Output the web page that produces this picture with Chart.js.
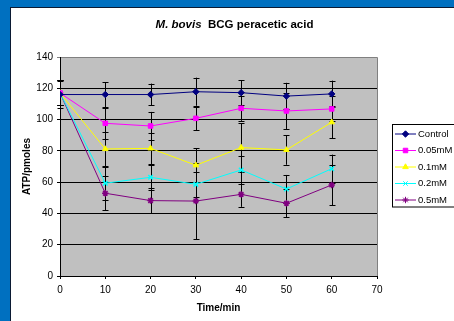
<!DOCTYPE html>
<html><head><meta charset="utf-8">
<script src="https://cdn.jsdelivr.net/npm/chart.js@4"></script>
<style>
html,body{margin:0;padding:0;background:#0070C0;width:454px;height:321px;overflow:hidden;}
#panel{position:absolute;left:10px;top:7px;width:444px;height:314px;background:#fff;border-left:1px solid #0b1a33;border-top:1px solid #0b1a33;}
#title{position:absolute;left:0;top:10px;width:447px;text-align:center;font:bold 11.5px "Liberation Sans",Arial,sans-serif;line-height:13px;color:#000;white-space:pre;}
canvas{position:absolute;left:0;top:0;}
</style></head>
<body>
<div id="panel">
<canvas id="c" width="443" height="313"></canvas>
<div id="title"><i>M. bovis</i>  BCG peracetic acid</div>
</div>
<script>
const times = [0, 10, 20, 30, 40, 50, 60];
const seriesNames = ["Control", "0.05mM", "0.1mM", "0.2mM", "0.5mM"];
const control   = [116, 116, 116, 117.8, 117.2, 115, 116.4];
const mm005     = [117, 97.6, 95.9, 100.8, 107.2, 105.5, 106.8];
const mm01      = [117, 81.2, 81.6, 70.8, 82.1, 80.6, 98.3];
const mm02      = [117, 59.3, 63.1, 58.6, 67.8, 55.6, 68.6];
const mm05      = [117, 52.9, 48.2, 47.9, 52.2, 46.5, 58.2];
const errControl = [8.5, 8, 7, 9, 8, 8.5, 8.5];
const err005     = [8, 10, 9, 7.5, 8, 11.5, 8];
const err01      = [8, 11, 10, 11, 15.5, 9.5, 10.3];
const err02      = [8, 10.7, 8, 8, 9, 9, 9];
const err05      = [8, 11, 8, 24.5, 8, 9, 13];
const xTicks = [0, 10, 20, 30, 40, 50, 60, 70];
const yTicks = [0, 20, 40, 60, 80, 100, 120, 140];

const FONT = '"Liberation Sans", Arial, sans-serif';
const colors = ["#000080", "#FF00FF", "#FFFF00", "#00FFFF", "#800080"];
const styles = ["rectRot", "rect", "triangle", "crossRot", "star"];
const values = [control, mm005, mm01, mm02, mm05];
const errs = [errControl, err005, err01, err02, err05];

const datasets = seriesNames.map((n, k) => ({
  label: n,
  data: times.map((t, i) => ({x: t, y: values[k][i]})),
  errors: errs[k],
  borderColor: colors[k],
  backgroundColor: colors[k],
  borderWidth: 1,
  pointStyle: styles[k],
  pointRadius: 3.2,
  pointBorderWidth: (k >= 3) ? 1.5 : 1,
  pointBorderColor: colors[k],
  pointBackgroundColor: colors[k],
  tension: 0
}));

const bgPlugin = {
  id: 'bg',
  beforeDraw(chart) {
    const {ctx, chartArea: a} = chart;
    ctx.save();
    ctx.fillStyle = '#C0C0C0';
    ctx.fillRect(a.left, a.top, a.right - a.left, a.bottom - a.top);
    ctx.strokeStyle = '#808080';
    ctx.lineWidth = 1;
    ctx.beginPath();
    ctx.moveTo(a.left, a.top + 0.5);
    ctx.lineTo(a.right + 0.5, a.top + 0.5);
    ctx.lineTo(a.right + 0.5, a.bottom);
    ctx.stroke();
    ctx.restore();
  }
};

const errPlugin = {
  id: 'errbars',
  beforeDatasetsDraw(chart) {
    const {ctx} = chart;
    const xs = chart.scales.x, ys = chart.scales.y;
    ctx.save();
    ctx.strokeStyle = '#000';
    ctx.lineWidth = 1;
    chart.data.datasets.forEach(ds => {
      ds.data.forEach((p, i) => {
        const e = ds.errors[i];
        const x = Math.round(xs.getPixelForValue(p.x)) + 0.5;
        const y1 = ys.getPixelForValue(p.y + e);
        const y2 = ys.getPixelForValue(p.y - e);
        ctx.beginPath();
        ctx.moveTo(x, y1); ctx.lineTo(x, y2);
        ctx.moveTo(x - 3, Math.round(y1) + 0.5); ctx.lineTo(x + 3, Math.round(y1) + 0.5);
        ctx.moveTo(x - 3, Math.round(y2) + 0.5); ctx.lineTo(x + 3, Math.round(y2) + 0.5);
        ctx.stroke();
      });
    });
    ctx.restore();
  }
};

const legendPlugin = {
  id: 'boxlegend',
  afterDraw(chart) {
    const {ctx} = chart;
    const bx = 381.5, by = 116.5, bw = 80, bh = 82.5;
    ctx.save();
    ctx.fillStyle = '#fff';
    ctx.fillRect(bx, by, bw, bh);
    ctx.strokeStyle = '#000';
    ctx.lineWidth = 1;
    ctx.strokeRect(bx, by, bw, bh);
    ctx.font = '9.5px ' + FONT;
    ctx.textBaseline = 'middle';
    ctx.textAlign = 'left';
    chart.data.datasets.forEach((ds, k) => {
      const y = 126 + k * 16.5;
      ctx.strokeStyle = ds.borderColor;
      ctx.lineWidth = 1;
      ctx.beginPath();
      ctx.moveTo(384, y); ctx.lineTo(405, y);
      ctx.stroke();
      ctx.fillStyle = ds.backgroundColor;
      ctx.strokeStyle = ds.borderColor;
      Chart.helpers.drawPoint(ctx, {pointStyle: ds.pointStyle, radius: 3.2, rotation: 0, borderWidth: ds.pointBorderWidth}, 394.5, y);
      ctx.fillStyle = '#000';
      ctx.fillText(ds.label, 407, y);
    });
    ctx.restore();
  }
};

new Chart(document.getElementById('c'), {
  type: 'line',
  data: {datasets},
  plugins: [bgPlugin, errPlugin, legendPlugin],
  options: {
    responsive: false,
    animation: false,
    devicePixelRatio: 1,
    layout: {padding: {left: 0, top: 49, right: 77, bottom: 5}},
    plugins: {legend: {display: false}, title: {display: false}, tooltip: {enabled: false}},
    scales: {
      x: {
        type: 'linear', min: 0, max: 70,
        afterFit(s) { s.height = 40; },
        afterBuildTicks(s) { s.ticks = xTicks.map(v => ({value: v})); },
        ticks: {color: '#000', font: {family: FONT, size: 10}, padding: 5, maxRotation: 0},
        grid: {display: true, drawOnChartArea: false, drawTicks: true, tickLength: 3, color: '#000'},
        border: {display: true, color: '#000', width: 1},
        title: {display: true, text: 'Time/min', color: '#000', font: {family: FONT, size: 10, weight: 'bold', lineHeight: 1.2}, padding: {top: 0, bottom: 2}}
      },
      y: {
        type: 'linear', min: 0, max: 140,
        afterFit(s) { s.width = 49; },
        afterBuildTicks(s) { s.ticks = yTicks.map(v => ({value: v})); },
        ticks: {color: '#000', font: {family: FONT, size: 10}, padding: 4},
        grid: {display: true, drawTicks: true, tickLength: 3, color: c => (c.tick && c.tick.value === 140) ? '#808080' : '#000'},
        border: {display: true, color: '#000', width: 1},
        title: {display: true, text: 'ATP/pmoles', color: '#000', font: {family: FONT, size: 10, weight: 'bold', lineHeight: 1.2}, padding: {top: 10, bottom: 0}}
      }
    }
  }
});
</script>
</body></html>
